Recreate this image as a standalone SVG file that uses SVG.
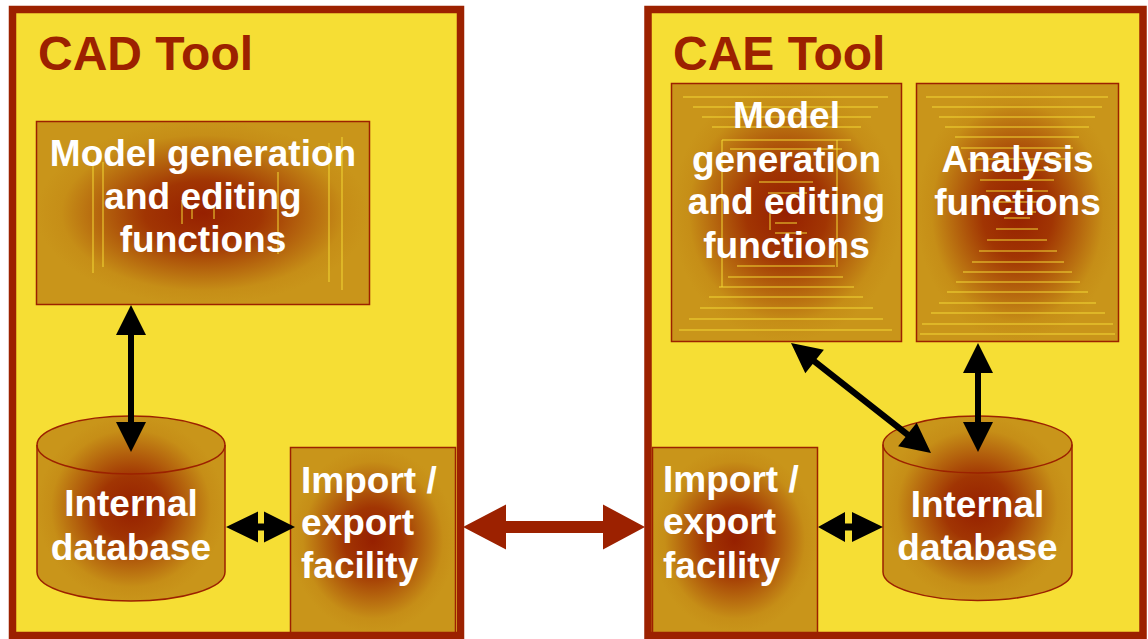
<svg xmlns="http://www.w3.org/2000/svg" width="1148" height="639" viewBox="0 0 1148 639">
<defs>
<radialGradient id="burst" cx="0.5" cy="0.5" r="0.5">
<stop offset="0" stop-color="#962000"/>
<stop offset="0.35" stop-color="#A13503"/>
<stop offset="0.85" stop-color="#C68E17"/>
<stop offset="1" stop-color="#C9951A"/>
</radialGradient>
<radialGradient id="cyl" cx="0.5" cy="0.5" r="0.5">
<stop offset="0" stop-color="#962000"/>
<stop offset="0.35" stop-color="#A13503"/>
<stop offset="0.85" stop-color="#C68E17"/>
<stop offset="1" stop-color="#C9951A"/>
</radialGradient>
</defs>
<style>
.frame{fill:#F6DE34;stroke:#9C2100;stroke-width:7.5}
.box{fill:url(#burst);stroke:#9C2100;stroke-width:1.5}
.cyl{fill:url(#cyl);stroke:#9C2100;stroke-width:1.5}
.arc{fill:none;stroke:#9C2100;stroke-width:1.5}
.title{font-family:"Liberation Sans",Arial,sans-serif;font-weight:bold;font-size:48px;fill:#9C2100}
.lbl{font-family:"Liberation Sans",Arial,sans-serif;font-weight:bold;font-size:37px;fill:#FFFFFF}
.mid{text-anchor:middle}
.art{stroke:#F3D835;stroke-width:1;fill:none}
.blk{fill:#000000}
.red{fill:#9C2100}
</style>
<rect width="1148" height="639" fill="#FFFFFF"/>

<g id="cad-tool">
<rect class="frame" x="12.5" y="9.5" width="448" height="626"/>
<text class="title" x="38" y="70">CAD Tool</text>
</g>

<g id="cae-tool">
<rect class="frame" x="648" y="9.5" width="495" height="626"/>
<text class="title" x="673" y="70">CAE Tool</text>
</g>

<g id="cad-model">
<rect class="box" x="36.5" y="121.5" width="333" height="183"/>
<g class="art">
<line x1="93" y1="160" x2="93" y2="273"/>
<line x1="103" y1="162" x2="103" y2="267"/>
<line x1="278" y1="172" x2="278" y2="254"/>
<line x1="329" y1="143" x2="329" y2="282"/>
<line x1="342" y1="137" x2="342" y2="290"/>
<line x1="182" y1="200" x2="182" y2="224"/>
<line x1="192" y1="207" x2="192" y2="219"/>
<line x1="214" y1="207" x2="214" y2="219"/>
</g>
<text class="lbl mid" x="203" y="166">Model generation</text>
<text class="lbl mid" x="203" y="209">and editing</text>
<text class="lbl mid" x="203" y="252">functions</text>
</g>

<g id="cad-db">
<path class="cyl" d="M37,445 A94,29 0 0 1 225,445 L225,572 A94,29 0 0 1 37,572 Z"/>
<path class="arc" d="M37,445 A94,29 0 0 0 225,445"/>
<text class="lbl mid" x="131" y="516">Internal</text>
<text class="lbl mid" x="131" y="560">database</text>
</g>

<g id="cad-io">
<rect class="box" x="290.5" y="447.5" width="165" height="185"/>
<text class="lbl" x="301" y="493">Import /</text>
<text class="lbl" x="301" y="535">export</text>
<text class="lbl" x="301" y="578">facility</text>
</g>

<g id="cae-model">
<rect class="box" x="671.5" y="83.5" width="230" height="258"/>
<g class="art">
<line x1="683" y1="97" x2="888" y2="97"/>
<line x1="693" y1="107" x2="878" y2="107"/>
<line x1="702" y1="117" x2="871" y2="117"/>
<line x1="712" y1="127" x2="861" y2="127"/>
<line x1="722" y1="140" x2="851" y2="140"/>
<line x1="730" y1="149" x2="842" y2="149"/>
<line x1="759" y1="182" x2="813" y2="182"/>
<line x1="768" y1="193" x2="807" y2="193"/>
<line x1="775" y1="223" x2="797" y2="223"/>
<line x1="775" y1="233" x2="807" y2="233"/>
<line x1="737" y1="266" x2="835" y2="266"/>
<line x1="728" y1="277" x2="843" y2="277"/>
<line x1="719" y1="287" x2="854" y2="287"/>
<line x1="709" y1="297" x2="863" y2="297"/>
<line x1="700" y1="308" x2="873" y2="308"/>
<line x1="689" y1="319" x2="883" y2="319"/>
<line x1="679" y1="330" x2="892" y2="330"/>
<line x1="722" y1="140" x2="722" y2="287"/>
<line x1="837" y1="140" x2="837" y2="267"/>
<line x1="770" y1="213" x2="770" y2="230"/>
</g>
<text class="lbl mid" x="786.5" y="128">Model</text>
<text class="lbl mid" x="786.5" y="172">generation</text>
<text class="lbl mid" x="786.5" y="214">and editing</text>
<text class="lbl mid" x="786.5" y="258">functions</text>
</g>

<g id="cae-analysis">
<rect class="box" x="916.5" y="83.5" width="202" height="258"/>
<g class="art">
<line x1="926" y1="97" x2="1108" y2="97"/>
<line x1="932" y1="107" x2="1102" y2="107"/>
<line x1="939" y1="117" x2="1095" y2="117"/>
<line x1="945" y1="127" x2="1089" y2="127"/>
<line x1="955" y1="137" x2="1079" y2="137"/>
<line x1="961" y1="148" x2="1073" y2="148"/>
<line x1="968" y1="159" x2="1066" y2="159"/>
<line x1="974" y1="170" x2="1060" y2="170"/>
<line x1="980" y1="180" x2="1054" y2="180"/>
<line x1="986" y1="191" x2="1048" y2="191"/>
<line x1="992" y1="202" x2="1042" y2="202"/>
<line x1="998" y1="212" x2="1036" y2="212"/>
<line x1="1004" y1="218" x2="1030" y2="218"/>
<line x1="996" y1="229" x2="1038" y2="229"/>
<line x1="987" y1="240" x2="1047" y2="240"/>
<line x1="979" y1="251" x2="1057" y2="251"/>
<line x1="972" y1="262" x2="1064" y2="262"/>
<line x1="963" y1="272" x2="1072" y2="272"/>
<line x1="956" y1="282" x2="1080" y2="282"/>
<line x1="947" y1="292" x2="1088" y2="292"/>
<line x1="939" y1="303" x2="1096" y2="303"/>
<line x1="931" y1="313" x2="1105" y2="313"/>
<line x1="922" y1="324" x2="1113" y2="324"/>
<line x1="920" y1="334" x2="1115" y2="334"/>
</g>
<text class="lbl mid" x="1017.5" y="172">Analysis</text>
<text class="lbl mid" x="1017.5" y="215">functions</text>
</g>

<g id="cae-io">
<rect class="box" x="652.5" y="447.5" width="165" height="185"/>
<text class="lbl" x="663" y="492">Import /</text>
<text class="lbl" x="663" y="534">export</text>
<text class="lbl" x="663" y="578">facility</text>
</g>

<g id="cae-db">
<path class="cyl" d="M883,444.5 A94.5,28.5 0 0 1 1072,444.5 L1072,572 A94.5,28.5 0 0 1 883,572 Z"/>
<path class="arc" d="M883,444.5 A94.5,28.5 0 0 0 1072,444.5"/>
<text class="lbl mid" x="977.5" y="517">Internal</text>
<text class="lbl mid" x="977.5" y="560">database</text>
</g>

<g id="connectors">
<path class="blk" d="M131,305 L146,335 L134,335 L134,422 L146,422 L131,452 L116,422 L128,422 L128,335 L116,335 Z"/>
<path class="blk" d="M226,527 L258,511.5 L258,523.5 L264,523.5 L264,511.5 L295,527 L264,542.5 L264,530.5 L258,530.5 L258,542.5 Z"/>
<path class="red" d="M463,527 L506,504.5 L506,521 L603,521 L603,504.5 L645,527 L603,549.5 L603,533 L506,533 L506,549.5 Z"/>
<path class="blk" d="M818,527 L845,512 L845,523.5 L852,523.5 L852,512 L883,527 L852,542 L852,530.5 L845,530.5 L845,542 Z"/>
<path class="blk" d="M978,343 L993,373 L981,373 L981,422 L993,422 L978,452 L963,422 L975,422 L975,373 L963,373 Z"/>
<path class="blk" d="M791,343 L823.9,349.7 L816.5,359.1 L909.3,432.1 L916.7,422.7 L931,453 L898.1,446.3 L905.5,436.9 L812.7,363.9 L805.3,373.3 Z"/>
</g>
</svg>
